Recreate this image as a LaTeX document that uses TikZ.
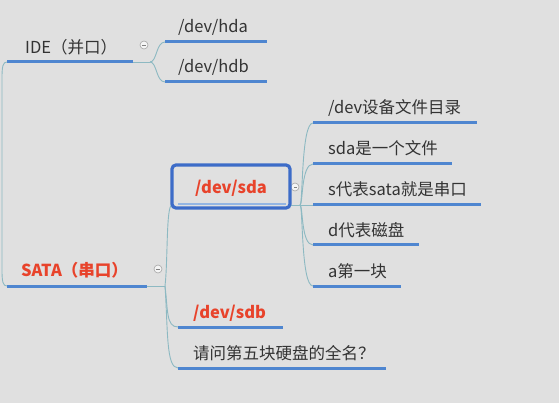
\documentclass[tikz,border=0pt]{standalone}
\usepackage{fontspec}
\setmainfont{Noto Sans CJK SC}
\begin{document}
\begin{tikzpicture}[x=1pt,y=-1pt,
  every node/.style={inner sep=0pt, font=\fontsize{16.5}{18}\selectfont},
  topic/.style={text=txt, anchor=west},
  hot/.style={text=redtxt, font=\fontsize{16.5}{18}\selectfont\bfseries},
  uline/.style={draw=ublue, line width=3pt},
  conn/.style={draw=cline, line width=0.9pt},
  fold/.style={circle, draw=gray!70, fill=white!92!gray, minimum size=8pt, line width=0.6pt},
]
\definecolor{bg}{HTML}{E0E0E0}
\definecolor{txt}{HTML}{333333}
\definecolor{redtxt}{HTML}{E8432B}
\definecolor{ublue}{HTML}{4F86D0}
\definecolor{cline}{HTML}{8DB9C2}
\definecolor{boxblue}{HTML}{3D6CC8}
\fill[bg] (0,0) rectangle (559,403);
\useasboundingbox (0,0) rectangle (559,403);

% ---------- coordinates ----------
\coordinate (ideL) at (7,62);  \coordinate (ideR) at (133,62);
\coordinate (ideB) at (150,62);
\coordinate (hdaL) at (165,42); \coordinate (hdaR) at (267,42);
\coordinate (hdbL) at (165,82); \coordinate (hdbR) at (267,82);
\coordinate (sataL) at (7,286); \coordinate (sataR) at (147,286);
\coordinate (sataB) at (165,286);
\coordinate (sdaL) at (172,205); \coordinate (sdaR) at (290,205);
\coordinate (sdaB) at (300,205);
\coordinate (sdbL) at (178,327); \coordinate (sdbR) at (283,327);
\coordinate (qL) at (178,368); \coordinate (qR) at (386,368);
\coordinate (c1L) at (313,123); \coordinate (c1R) at (477,123);
\coordinate (c2L) at (313,164); \coordinate (c2R) at (452,164);
\coordinate (c3L) at (313,205); \coordinate (c3R) at (481,205);
\coordinate (c4L) at (313,245); \coordinate (c4R) at (419,245);
\coordinate (c5L) at (313,286); \coordinate (c5R) at (401,286);

% ---------- connectors ----------
\path[conn] (ideL) .. controls (3,62) and (2,66) .. (2,78) -- (2,270) .. controls (2,282) and (3,286) .. (sataL);
\path[conn] (ideR) -- (ideB);
\path[conn] (ideB) .. controls (157,62) and (156,42) .. (hdaL);
\path[conn] (ideB) .. controls (157,62) and (156,82) .. (hdbL);
\path[conn] (sataR) -- (sataB);
\path[conn] (sataB) .. controls (168,260) and (166,205) .. (sdaL);
\path[conn] (sataB) .. controls (168,310) and (166,327) .. (sdbL);
\path[conn] (sataB) .. controls (168,330) and (166,368) .. (qL);
\path[conn] (sdaR) -- (sdaB);
\path[conn] (sdaB) .. controls (303,205) and (301,123) .. (c1L);
\path[conn] (sdaB) .. controls (303,205) and (301,164) .. (c2L);
\path[conn] (sdaB) -- (c3L);
\path[conn] (sdaB) .. controls (303,205) and (301,245) .. (c4L);
\path[conn] (sdaB) .. controls (303,205) and (301,286) .. (c5L);

% ---------- underlines ----------
\foreach \a/\b in {ideL/ideR,hdaL/hdaR,hdbL/hdbR,sataL/sataR,sdbL/sdbR,qL/qR,c1L/c1R,c2L/c2R,c3L/c3R,c4L/c4R,c5L/c5R}
  \path[uline] (\a) -- (\b);
\path[draw=ublue!60, line width=2pt] (178,204) -- (286,204);

% ---------- texts ----------
\node[topic] (ide) at (25,47) {IDE（并口）};
\node[topic] (hda) at (178,27) {/dev/hda};
\node[topic] (hdb) at (178,67) {/dev/hdb};
\node[topic, hot] (sata) at (21,270) {SATA（串口）};
\node[topic, hot] (sdb) at (193,313) {/dev/sdb};
\node[topic] (q) at (193,353) {请问第五块硬盘的全名？};
\node[topic] (t1) at (328,108) {/dev设备文件目录};
\node[topic] (t2) at (328,148) {sda是一个文件};
\node[topic] (t3) at (328,189) {s代表sata就是串口};
\node[topic] (t4) at (328,230) {d代表磁盘};
\node[topic] (t5) at (328,271) {a第一块};

% ---------- selected topic box ----------
\node[fold] (fsda) at (295,187) {};
\draw[gray, line width=0.7pt] ([xshift=-1pt]fsda.center) -- ([xshift=2pt]fsda.center);
\draw[boxblue, line width=3.2pt, rounded corners=4pt] (172,165) rectangle (290,208);
\node[hot] (sda) at (231,188) {/dev/sda};

% ---------- fold markers ----------
\node[fold] (fide) at (144,45) {};
\draw[gray, line width=0.7pt] ([xshift=-2pt]fide.center) -- ([xshift=2pt]fide.center);
\node[fold] (fsata) at (158,269) {};
\draw[gray, line width=0.7pt] ([xshift=-2pt]fsata.center) -- ([xshift=2pt]fsata.center);
\end{tikzpicture}
\end{document}
